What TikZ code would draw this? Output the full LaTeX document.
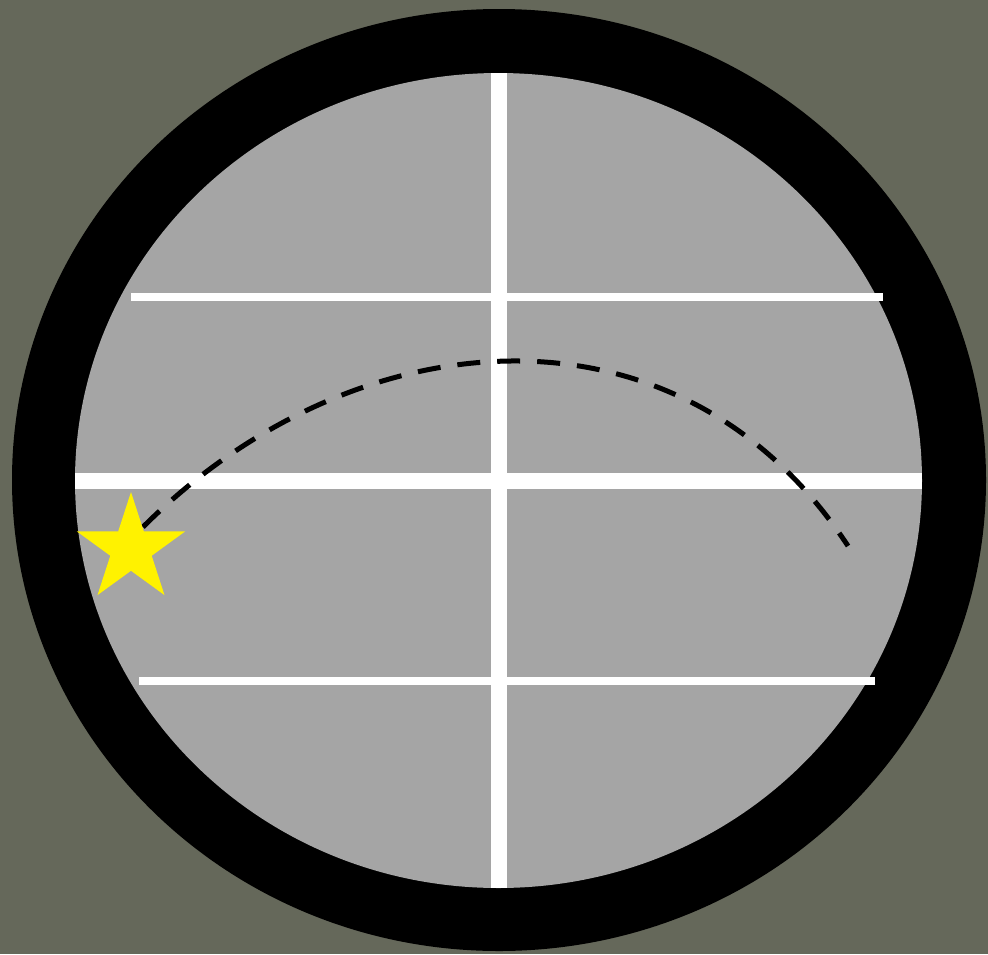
\documentclass[tikz,border=0pt]{standalone}
\usepackage{tikz}
\usetikzlibrary{shapes.geometric}

\definecolor{olivebg}{RGB}{101,104,90}
\definecolor{lensgray}{RGB}{165,165,165}

\tikzset{
	crosshair/.style={white,line width=16pt},
	tickline/.style={white,line width=7.5pt},
	trajectory/.style={black,line width=5pt,dash pattern=on 23pt off 17pt},
}

\begin{document}
\begin{tikzpicture}[x=1pt,y=-1pt]
	\fill[olivebg] (0,0) rectangle (988,954);
	\fill[black] (499,480) ellipse [x radius=487, y radius=471];
	\fill[lensgray] (498.5,480.5) ellipse [x radius=423.5, y radius=407.5];
	\coordinate (V1) at (499,73);
	\coordinate (V2) at (499,888);
	\coordinate (H1) at (75,481);
	\coordinate (H2) at (922,481);
	\draw[crosshair] (V1) -- (V2);
	\draw[crosshair] (H1) -- (H2);
	\draw[tickline] (131,297) -- (883,297);
	\draw[tickline] (139,681) -- (875,681);
	\coordinate (S) at (143,527);
	\coordinate (E) at (848,546);
	\draw[trajectory] (S) .. controls (352,318) and (678,287) .. (E);
	\node[star,star points=5,star point ratio=2.618,minimum size=114pt,inner sep=0pt,fill=yellow] (target) at (131,549) {};
\end{tikzpicture}
\end{document}
